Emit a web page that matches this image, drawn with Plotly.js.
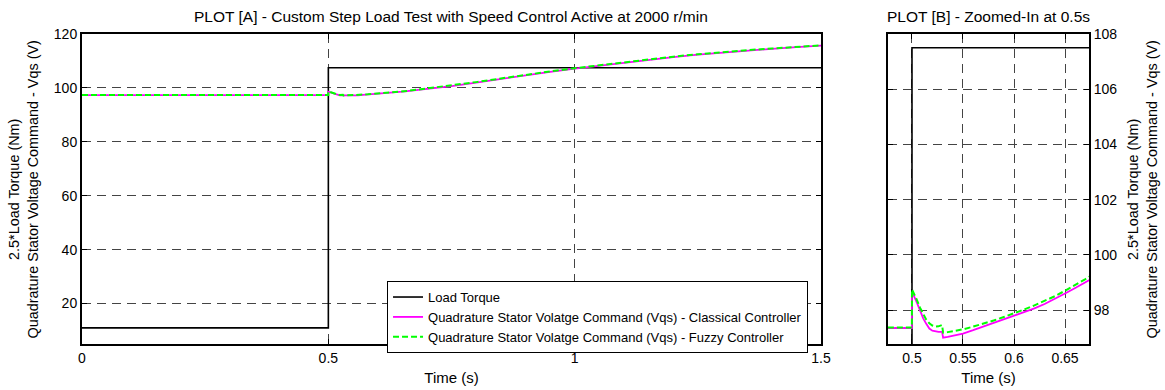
<!DOCTYPE html>
<html>
<head>
<meta charset="utf-8">
<script src="https://cdn.plot.ly/plotly-3.0.1.min.js"></script>
<style>html,body{margin:0;padding:0;background:#fff;}#chart{width:1165px;height:390px;}</style>
</head>
<body>
<div id="chart"></div>
<script>
// ---- Data ----
var torqueTime = [0, 0.5, 1.5];
var torqueScaled = [11, 107.5, 107.5];   // 2.5 * load torque (Nm)

var time = [0, 0.4999, 0.5, 0.502, 0.505, 0.508, 0.511, 0.514, 0.517, 0.52, 0.523, 0.526, 0.5295, 0.5305,
            0.535, 0.54, 0.55, 0.56, 0.57, 0.58, 0.59, 0.6, 0.61, 0.62, 0.63, 0.64, 0.65, 0.66, 0.67, 0.68,
            0.7, 0.75, 0.8, 0.85, 0.9, 0.95, 1.0, 1.05, 1.1, 1.15, 1.2, 1.25, 1.3, 1.35, 1.4, 1.45, 1.5];

var vqsClassical = [97.35, 97.35, 98.62, 98.5, 98.25, 97.95, 97.7, 97.5, 97.33, 97.25, 97.22, 97.21, 97.21, 97.0,
                    97.03, 97.07, 97.15, 97.27, 97.4, 97.52, 97.65, 97.78, 97.92, 98.06, 98.22, 98.4, 98.6, 98.8, 99.01, 99.22,
                    99.6, 100.65, 102.0, 103.35, 104.75, 105.95, 107.15, 108.25, 109.4, 110.45, 111.45, 112.35, 113.15, 113.9, 114.5, 115.1, 115.7];

var vqsFuzzy = [97.37, 97.37, 98.75, 98.6, 98.35, 98.08, 97.85, 97.65, 97.52, 97.44, 97.4, 97.41, 97.46, 97.18,
                97.2, 97.23, 97.3, 97.4, 97.5, 97.62, 97.75, 97.88, 98.02, 98.17, 98.33, 98.5, 98.7, 98.9, 99.12, 99.35,
                99.75, 100.8, 102.15, 103.5, 104.9, 106.1, 107.3, 108.4, 109.55, 110.6, 111.6, 112.5, 113.3, 114.0, 114.6, 115.2, 115.8];

var xTicksA = [0, 0.5, 1, 1.5];
var yTicksA = [20, 40, 60, 80, 100, 120];
var xTicksB = [0.5, 0.55, 0.6, 0.65];
var yTicksB = [98, 100, 102, 104, 106, 108];

var seriesNames = ['Load Torque',
  'Quadrature Stator Volatge Command (Vqs) - Classical Controller',
  'Quadrature Stator Volatge Command (Vqs) - Fuzzy Controller'];

var FONT = 'Liberation Sans, Arial, sans-serif';

var traces = [];
[['x','y',true],['x2','y2',false]].forEach(function(ax){
  traces.push({x: torqueTime, y: torqueScaled, xaxis: ax[0], yaxis: ax[1], mode: 'lines',
    line: {color: '#000000', width: 1.6, shape: 'hv'}, name: seriesNames[0], showlegend: ax[2]});
  traces.push({x: time, y: vqsClassical, xaxis: ax[0], yaxis: ax[1], mode: 'lines',
    line: {color: '#ff00ff', width: 1.8}, name: seriesNames[1], showlegend: ax[2]});
  traces.push({x: time, y: vqsFuzzy, xaxis: ax[0], yaxis: ax[1], mode: 'lines',
    line: {color: '#00ff00', width: 2, dash: '6px,3px'}, name: seriesNames[2], showlegend: ax[2]});
});

function axisBase(){
  return {
    showline: true, linecolor: '#000', linewidth: 2, mirror: 'allticks',
    ticks: 'inside', ticklen: 5, tickwidth: 1, tickcolor: '#000',
    showgrid: true, gridcolor: '#444', gridwidth: 1, griddash: '9px,6px',
    zeroline: false, tickfont: {family: FONT, size: 14, color: '#000'},
    tickmode: 'array'
  };
}

var xa = axisBase(); xa.domain = [0, 0.7339]; xa.range = [0, 1.5]; xa.tickvals = xTicksA;
xa.ticktext = ['0','0.5','1','1.5']; xa.anchor = 'y';
xa.title = {text: 'Time (s)', font: {family: FONT, size: 15, color: '#000'}, standoff: 8};
var ya = axisBase(); ya.domain = [0, 1]; ya.range = [5, 120]; ya.tickvals = yTicksA; ya.anchor = 'x';

var xb = axisBase(); xb.domain = [0.8004, 1.0]; xb.range = [0.4765, 0.6735]; xb.tickvals = xTicksB;
xb.ticktext = ['0.5','0.55','0.6','0.65']; xb.anchor = 'y2';
xb.title = {text: 'Time (s)', font: {family: FONT, size: 15, color: '#000'}, standoff: 8};
var yb = axisBase(); yb.domain = [0, 1]; yb.range = [96.77, 108]; yb.tickvals = yTicksB; yb.anchor = 'x2'; yb.side = 'right';

var yTitle = '2.5*Load Torque (Nm)<br>Quadrature Stator Voltage Command - Vqs (V)';

var layout = {
  width: 1165, height: 390,
  margin: {l: 82, r: 76, t: 34, b: 46},
  paper_bgcolor: '#fff', plot_bgcolor: '#fff',
  font: {family: FONT, size: 13, color: '#000'},
  xaxis: xa, yaxis: ya, xaxis2: xb, yaxis2: yb,
  showlegend: true,
  legend: {x: 0.3029, y: 0.203, xanchor: 'left', yanchor: 'top',
    bgcolor: '#fff', bordercolor: '#000', borderwidth: 1,
    font: {family: FONT, size: 13, color: '#000'}, tracegroupgap: 0},
  annotations: [
    {text: 'PLOT [A] - Custom Step Load Test with Speed Control Active at 2000 r/min', xref: 'paper', yref: 'paper',
     x: 0.3669, y: 1.0, yshift: 18, xanchor: 'center', yanchor: 'middle', showarrow: false, font: {family: FONT, size: 15.5}},
    {text: 'PLOT [B] - Zoomed-In at 0.5s', xref: 'paper', yref: 'paper',
     x: 0.9003, y: 1.0, yshift: 18, xanchor: 'center', yanchor: 'middle', showarrow: false, font: {family: FONT, size: 15.5}},
    {text: yTitle, xref: 'paper', yref: 'paper', x: -0.0581, y: 0.5, xanchor: 'center', yanchor: 'middle',
     textangle: -90, showarrow: false, font: {family: FONT, size: 14.4}},
    {text: yTitle, xref: 'paper', yref: 'paper', x: 1.0531, y: 0.5, xanchor: 'center', yanchor: 'middle',
     textangle: -90, showarrow: false, font: {family: FONT, size: 14.4}}
  ]
};

Plotly.newPlot('chart', traces, layout, {staticPlot: true, displayModeBar: false});
</script>
</body>
</html>
